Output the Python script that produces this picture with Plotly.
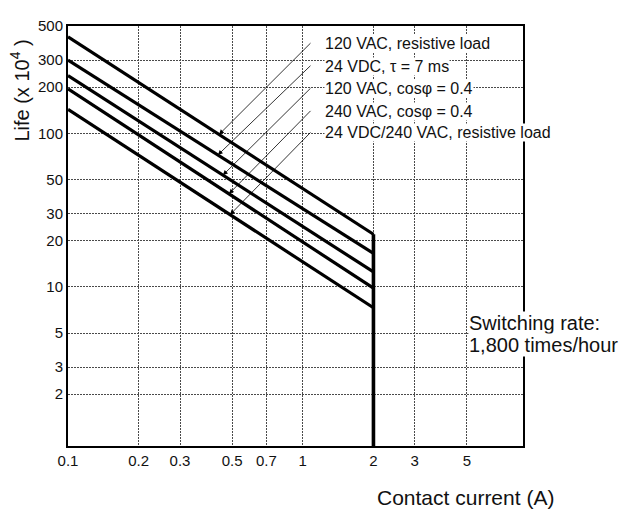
import math
import plotly.graph_objects as go

# ---- data ----
current_start = 0.1
current_end = 2.0
series_names = [
    "120 VAC, resistive load",
    "24 VDC, τ = 7 ms",
    "120 VAC, cosφ = 0.4",
    "240 VAC, cosφ = 0.4",
    "24 VDC/240 VAC, resistive load",
]
life_at_start = [425, 300, 238, 195, 143]
life_at_end = [22, 16.5, 12.5, 9.8, 7.3]
arrow_current = [0.44, 0.435, 0.457, 0.485, 0.49]

x_tickvals = [0.1, 0.2, 0.3, 0.5, 0.7, 1, 2, 3, 5]
x_ticktext = ["0.1", "0.2", "0.3", "0.5", "0.7", "1", "2", "3", "5"]
y_tickvals = [2, 3, 5, 10, 20, 30, 50, 100, 200, 300, 500]
y_ticktext = ["2", "3", "5", "10", "20", "30", "50", "100", "200", "300", "500"]

x_min, x_max = 0.1, 8.67
y_min, y_max = 0.918, 500

# ---- layout geometry (page body adds an 8px offset) ----
OFF = 8
W, H = 627 - OFF, 510 - OFF
ML, MT = 68 - OFF, 17 - OFF
PW, PH = 455, 429
MR, MB = W - ML - PW, H - MT - PH
FONT = "Liberation Sans, Arial, Helvetica, sans-serif"
INK = "#111111"

xr = [math.log10(x_min), math.log10(x_max)]
yr = [math.log10(y_min), math.log10(y_max)]


def px_x(v):
    return ML + (math.log10(v) - xr[0]) / (xr[1] - xr[0]) * PW


def px_y(v):
    return MT + (yr[1] - math.log10(v)) / (yr[1] - yr[0]) * PH


def paper_x(ref_px):
    return (ref_px - OFF - ML) / PW


def paper_y(ref_py):
    return (MT + PH - (ref_py - OFF)) / PH


def life_on_line(i, c):
    t = (math.log10(c) - math.log10(current_start)) / (math.log10(current_end) - math.log10(current_start))
    ly = math.log10(life_at_start[i]) + t * (math.log10(life_at_end[i]) - math.log10(life_at_start[i]))
    return 10 ** ly


fig = go.Figure()
for i, name in enumerate(series_names):
    fig.add_trace(go.Scatter(
        x=[current_start, current_end], y=[life_at_start[i], life_at_end[i]],
        mode="lines", line=dict(color="black", width=3.2), name=name,
        showlegend=False, hoverinfo="skip"))
# vertical cut-off at 2 A
fig.add_trace(go.Scatter(
    x=[current_end, current_end], y=[max(life_at_end), y_min],
    mode="lines", line=dict(color="black", width=3.6), showlegend=False, hoverinfo="skip"))

annotations = []
label_ref_y = [35, 58, 81, 104, 126]
label_ref_x = 324
tail_ref_x = 312
for i, name in enumerate(series_names):
    annotations.append(dict(
        x=paper_x(label_ref_x), y=paper_y(label_ref_y[i]),
        xref="paper", yref="paper", xanchor="left", yanchor="middle",
        text=name, showarrow=False, bgcolor="white", borderpad=0,
        font=dict(family=FONT, size=16, color=INK)))
    c = arrow_current[i]
    lf = life_on_line(i, c)
    tip_x, tip_y = px_x(c), px_y(lf)
    annotations.append(dict(
        x=math.log10(c), y=math.log10(lf), xref="x", yref="y",
        ax=(tail_ref_x - OFF) - tip_x, ay=(label_ref_y[i] - OFF) - tip_y,
        showarrow=True, arrowhead=2, arrowsize=1.2, arrowwidth=0.8,
        arrowcolor="black", text=""))

annotations += [
    dict(x=paper_x(468), y=paper_y(320), xref="paper", yref="paper",
         xanchor="left", yanchor="middle", text="Switching rate:", showarrow=False,
         bgcolor="white", borderpad=0, font=dict(family=FONT, size=20, color=INK)),
    dict(x=paper_x(468), y=paper_y(343), xref="paper", yref="paper",
         xanchor="left", yanchor="middle", text="1,800 times/hour", showarrow=False,
         bgcolor="white", borderpad=0, font=dict(family=FONT, size=20, color=INK)),
    dict(x=paper_x(465), y=paper_y(499), xref="paper", yref="paper",
         xanchor="center", yanchor="middle", text="Contact current (A)", showarrow=False,
         font=dict(family=FONT, size=21, color=INK)),
    dict(x=paper_x(20), y=paper_y(83), xref="paper", yref="paper",
         xanchor="center", yanchor="middle", text="Life (x 10<sup>4</sup> )", textangle=-90,
         showarrow=False, font=dict(family=FONT, size=20, color=INK)),
]

axis_common = dict(
    type="log", showgrid=True, gridcolor="#4a4a4a", gridwidth=1, griddash="2px,1px",
    showline=True, linecolor="black", linewidth=2, mirror=True, ticks="",
    zeroline=False, tickfont=dict(family=FONT, size=15, color=INK), fixedrange=True)

fig.update_layout(
    width=W, height=H, autosize=False,
    margin=dict(l=ML, r=MR, t=MT, b=MB, pad=0),
    paper_bgcolor="white", plot_bgcolor="white",
    xaxis=dict(range=xr, tickvals=x_tickvals, ticktext=x_ticktext, **axis_common),
    yaxis=dict(range=yr, tickvals=y_tickvals, ticktext=y_ticktext, **axis_common),
    annotations=annotations, showlegend=False)

fig.write_html("out.html")
